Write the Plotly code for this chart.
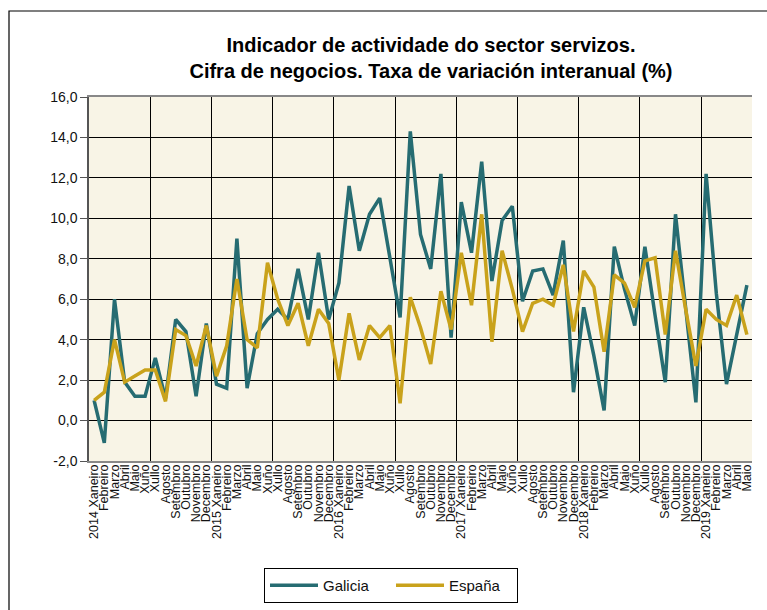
import plotly.graph_objects as go

months = ["Xaneiro", "Febreiro", "Marzo", "Abril", "Maio", "Xuño", "Xullo",
          "Agosto", "Setembro", "Outubro", "Novembro", "Decembro"]
years = [2014, 2015, 2016, 2017, 2018, 2019]

x_labels = []
for y in years:
    for m_i, m in enumerate(months):
        if y == 2019 and m_i > 4:
            break
        x_labels.append(f"{y} {m}" if m_i == 0 else m)

galicia = [1.0, -1.1, 6.0, 1.9, 1.2, 1.2, 3.1, 1.1, 5.0, 4.4, 1.2, 4.8,
           1.8, 1.6, 9.0, 1.6, 4.3, 5.0, 5.5, 5.0, 7.5, 5.0, 8.3, 5.0,
           6.8, 11.6, 8.4, 10.2, 11.0, 8.1, 5.1, 14.3, 9.2, 7.5, 12.2, 4.1,
           10.8, 8.3, 12.8, 6.9, 9.9, 10.6, 5.9, 7.4, 7.5, 6.2, 8.9, 1.4,
           5.6, 3.2, 0.5, 8.6, 6.5, 4.7, 8.6, 5.2, 1.9, 10.2, 5.7, 0.9,
           12.2, 6.3, 1.8, 4.3, 6.7]
espana = [1.0, 1.4, 4.0, 1.9, 2.2, 2.5, 2.5, 0.95, 4.5, 4.2, 2.7, 4.7,
          2.2, 3.7, 7.0, 4.0, 3.6, 7.8, 6.0, 4.7, 5.8, 3.7, 5.5, 4.8,
          2.0, 5.3, 3.0, 4.7, 4.1, 4.7, 0.85, 6.1, 4.6, 2.8, 6.4, 4.5,
          8.3, 5.7, 10.2, 3.9, 8.4, 6.5, 4.4, 5.8, 6.0, 5.7, 7.7, 4.4,
          7.4, 6.6, 3.4, 7.2, 6.8, 5.6, 7.9, 8.05, 4.25, 8.4, 5.5, 2.7,
          5.5, 5.0, 4.7, 6.2, 4.25]

y_tickvals = [-2, 0, 2, 4, 6, 8, 10, 12, 14, 16]
y_ticktext = ["-2,0", "0,0", "2,0", "4,0", "6,0", "8,0", "10,0", "12,0", "14,0", "16,0"]

idx = list(range(len(x_labels)))
teal = "#266C72"
gold = "#C9A21B"
font = "Liberation Sans, Arial, sans-serif"

fig = go.Figure()
fig.add_trace(go.Scatter(x=idx, y=galicia, mode="lines", name="Galicia",
                         line=dict(color=teal, width=3.5), xaxis="x", yaxis="y"))
fig.add_trace(go.Scatter(x=idx, y=espana, mode="lines", name="España",
                         line=dict(color=gold, width=3.5), xaxis="x2", yaxis="y"))

xr = [-0.5, len(idx) - 0.5]
fig.update_layout(
    width=767, height=610,
    margin=dict(l=89, r=15, t=97, b=149, autoexpand=False),
    paper_bgcolor="white",
    plot_bgcolor="#F8F4E6",
    font=dict(family=font, size=13, color="#111"),
    title=dict(
        text="Indicador de actividade do sector servizos.<br>Cifra de negocios. Taxa de variación interanual (%)",
        x=431 / 767, xanchor="center", xref="container",
        y=1 - 52 / 610, yanchor="top", yref="container",
        font=dict(family=font, size=20, color="#000", weight="bold"),
    ),
    xaxis=dict(
        range=xr, tickmode="linear", tick0=-0.5, dtick=6,
        showgrid=True, gridcolor="#000", gridwidth=1,
        showticklabels=False, ticks="", zeroline=False,
        showline=True, linecolor="#888", linewidth=2, mirror=True,
    ),
    xaxis2=dict(
        range=xr, overlaying="x", side="bottom", anchor="y",
        tickmode="array", tickvals=idx, ticktext=x_labels, tickangle=-90,
        tickfont=dict(family=font, size=12.5, color="#111"),
        showgrid=False, ticks="", zeroline=False, showline=False,
    ),
    yaxis=dict(
        range=[-2, 16], tickmode="array", tickvals=y_tickvals, ticktext=y_ticktext,
        showgrid=True, gridcolor="#000", gridwidth=1, zeroline=False,
        ticks="outside", ticklen=7, tickcolor="#555",
        showline=True, linecolor="#555", linewidth=1.5, mirror=False,
        tickfont=dict(family=font, size=14, color="#111"),
    ),
    showlegend=True,
    legend=dict(
        orientation="h", x=(264 - 89) / 663, xanchor="left",
        y=(461 - 568) / 364, yanchor="top",
        bordercolor="#000", borderwidth=1, bgcolor="white",
        font=dict(family=font, size=15, color="#111"),
        itemwidth=48, entrywidth=63, entrywidthmode="pixels",
        tracegroupgap=0,
    ),
    shapes=[dict(type="rect", xref="paper", yref="paper",
                 x0=(9 - 89) / 663, x1=1.2, y0=-0.6, y1=(461 - 11) / 364,
                 line=dict(color="#000", width=1.2), fillcolor="rgba(0,0,0,0)",
                 layer="below")],
)

fig.write_html("out.html", config={"displayModeBar": False},
               post_script="document.body.style.margin='0';")
